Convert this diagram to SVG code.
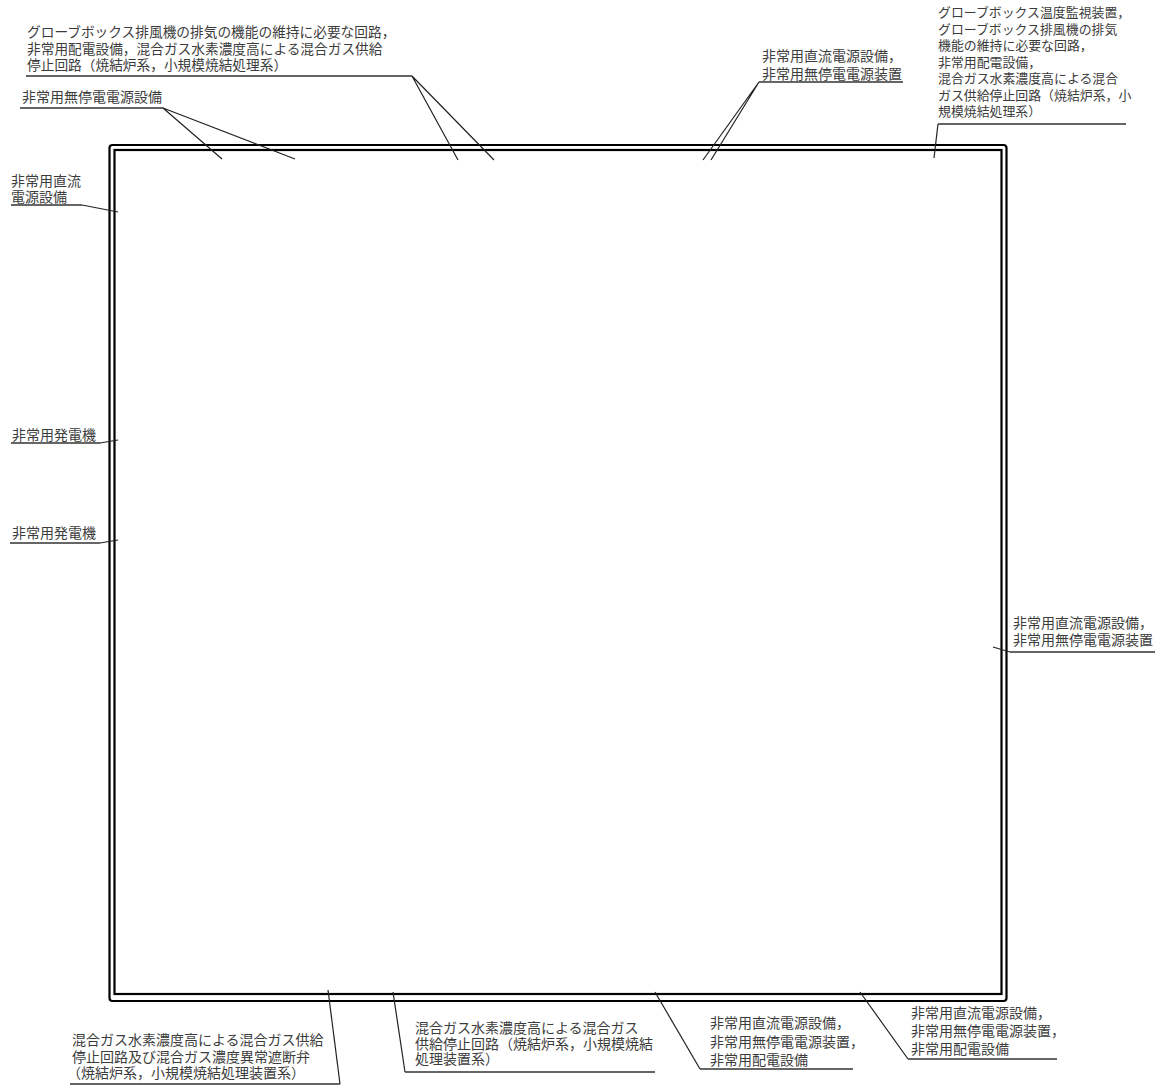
<svg xmlns="http://www.w3.org/2000/svg" width="1159" height="1086" viewBox="0 0 1159 1086">
<style>
text{font-family:"Noto Sans CJK JP","Noto Sans CJK SC",sans-serif;font-size:14px;fill:#3c3c3c}
.s13{font-size:13.7px}
.s12{font-size:12.9px}
.ul{stroke:#333;stroke-width:1.3;fill:none}
.ld{stroke:#222;stroke-width:1.2;fill:none}
.fr{fill:none;stroke:#000;stroke-width:2.2}
</style>
<rect width="1159" height="1086" fill="#fff"/>
<g id="frame">
<rect class="fr" x="109.5" y="145" width="897" height="856" rx="3"/>
<rect class="fr" x="114.5" y="150" width="887" height="844"/>
</g>
<g id="connectors">
<path class="ld" d="M412,76 L458,160 M412,76 L494,160"/>
<path class="ld" d="M163,108 L222,159 M163,108 L295,159"/>
<path class="ld" d="M759,82 L703,160 M759,82 L711,160"/>
<path class="ld" d="M938,124 L934,158"/>
<path class="ld" d="M82,205 L118,212"/>
<path class="ld" d="M100,443 L118,440"/>
<path class="ld" d="M100,543 L118,540"/>
<path class="ld" d="M993,647 L1010,652"/>
<path class="ld" d="M340,1084 L328,990"/>
<path class="ld" d="M405,1072 L393,992"/>
<path class="ld" d="M700,1069 L655,992"/>
<path class="ld" d="M908,1059 L860,992"/>
</g>
<g id="label-top1">
<text class="s13" x="27"><tspan x="27" y="37.2">グローブボックス排風機の排気の機能の維持に必要な回路，</tspan><tspan x="27" y="53.7">非常用配電設備，混合ガス水素濃度高による混合ガス供給</tspan><tspan x="27" y="70.2">停止回路（焼結炉系，小規模焼結処理系）</tspan></text>
<path class="ul" d="M26,76 H412"/>
</g>
<g id="label-top2">
<text x="22" y="102.3">非常用無停電電源設備</text>
<path class="ul" d="M20,108 H163"/>
</g>
<g id="label-top3">
<text><tspan x="762" y="60.8">非常用直流電源設備，</tspan><tspan x="762" y="79.3">非常用無停電電源装置</tspan></text>
<path class="ul" d="M759,82 H903"/>
</g>
<g id="label-top4">
<text class="s12"><tspan x="938" y="17.4">グローブボックス温度監視装置，</tspan><tspan x="938" y="33.9">グローブボックス排風機の排気</tspan><tspan x="938" y="50.4">機能の維持に必要な回路，</tspan><tspan x="938" y="66.9">非常用配電設備，</tspan><tspan x="938" y="83.4">混合ガス水素濃度高による混合</tspan><tspan x="938" y="99.9">ガス供給停止回路（焼結炉系，小</tspan><tspan x="938" y="116.4">規模焼結処理系）</tspan></text>
<path class="ul" d="M938,124 H1126"/>
</g>
<g id="label-left1">
<text><tspan x="11" y="186.3">非常用直流</tspan><tspan x="11" y="201.8">電源設備</tspan></text>
<path class="ul" d="M11,205 H82"/>
</g>
<g id="label-left2">
<text x="12" y="440.3">非常用発電機</text>
<path class="ul" d="M11,443 H100"/>
</g>
<g id="label-left3">
<text x="12" y="538.3">非常用発電機</text>
<path class="ul" d="M10,543 H100"/>
</g>
<g id="label-right">
<text><tspan x="1013" y="628.3">非常用直流電源設備，</tspan><tspan x="1013" y="645.3">非常用無停電電源装置</tspan></text>
<path class="ul" d="M1010,652 H1155"/>
</g>
<g id="label-bottom1">
<text><tspan x="72" y="1045.3">混合ガス水素濃度高による混合ガス供給</tspan><tspan x="72" y="1062">停止回路及び混合ガス濃度異常遮断弁</tspan><tspan x="67" y="1077.5">（焼結炉系，小規模焼結処理装置系）</tspan></text>
<path class="ul" d="M70,1084 H340"/>
</g>
<g id="label-bottom2">
<text><tspan x="415" y="1033.3">混合ガス水素濃度高による混合ガス</tspan><tspan x="415" y="1048.5">供給停止回路（焼結炉系，小規模焼結</tspan><tspan x="415" y="1063.8">処理装置系）</tspan></text>
<path class="ul" d="M405,1072 H655"/>
</g>
<g id="label-bottom3">
<text><tspan x="710" y="1028.3">非常用直流電源設備，</tspan><tspan x="710" y="1047">非常用無停電電源装置，</tspan><tspan x="710" y="1065.3">非常用配電設備</tspan></text>
<path class="ul" d="M700,1069 H853"/>
</g>
<g id="label-bottom4">
<text><tspan x="911" y="1018.3">非常用直流電源設備，</tspan><tspan x="911" y="1036.3">非常用無停電電源装置，</tspan><tspan x="911" y="1054.3">非常用配電設備</tspan></text>
<path class="ul" d="M908,1059 H1057"/>
</g>
</svg>
